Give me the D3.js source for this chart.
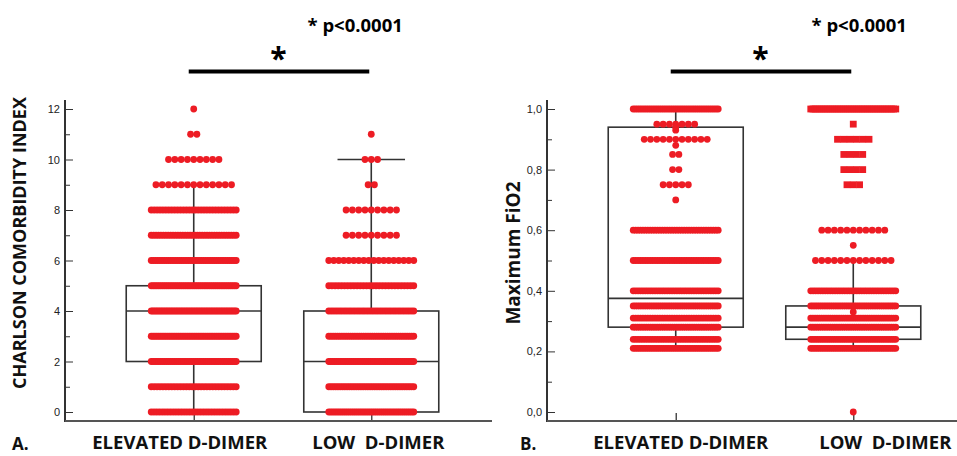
<html>
<head>
	<title>D-dimer dot plots</title>
	<script src="https://d3js.org/d3.v7.min.js"></script>
	<style type="text/css">
		body { margin: 0; background: #fff; }
		svg { display: block; }
	</style>
</head>
<body>
<div id="chart"></div>
<script type="text/javascript">
var groups = ["ELEVATED D-DIMER", "LOW  D-DIMER"];

// Charlson index: value of each row and how many dots sit on it
var charlsonValues = [0, 1, 2, 3, 4, 5, 6, 7, 8, 9, 10, 11, 12];
var charlsonElevated = [32, 30, 45, 48, 52, 46, 40, 36, 30, 13, 9, 2, 1];
var charlsonLow = [42, 38, 46, 40, 34, 28, 18, 9, 9, 2, 3, 1, 0];
// min, q1, median, q3, max
var charlsonBoxElevated = [0, 2, 4, 5, 9];
var charlsonBoxLow = [0, 0, 2, 4, 10];
var charlsonTicks = [0, 2, 4, 6, 8, 10, 12];
var charlsonMinor = [1, 3, 5, 7, 9, 11];

// Maximum FiO2
var fio2ValuesElevated = [0.21, 0.24, 0.28, 0.31, 0.35, 0.40, 0.50, 0.60, 0.70, 0.75, 0.80, 0.85, 0.88, 0.90, 0.93, 0.94, 0.95, 1.00];
var fio2Elevated = [40, 36, 40, 36, 40, 36, 36, 36, 1, 5, 2, 2, 1, 11, 1, 1, 7, 40];
var fio2ValuesLow = [0.00, 0.21, 0.24, 0.28, 0.31, 0.33, 0.35, 0.40, 0.50, 0.55, 0.60, 0.75, 0.80, 0.85, 0.90, 0.95, 1.00];
var fio2Low = [1, 40, 40, 40, 40, 1, 40, 36, 13, 1, 11, 3, 4, 4, 6, 1, 40];
var fio2LowSquares = [0.75, 0.80, 0.85, 0.90, 0.95, 1.00];
var fio2BoxElevated = [0.21, 0.28, 0.375, 0.94, 1.00];
var fio2BoxLow = [0.21, 0.24, 0.28, 0.35, 0.50];
var fio2Ticks = [0, 0.2, 0.4, 0.6, 0.8, 1.0];
var fio2Minor = [0.1, 0.3, 0.5, 0.7, 0.9];

var pText = "* p<0.0001";

var width = 957, height = 456;
var axisY = 421, axisTop = 100;
var red = "#ed1c24", ink = "#333";
var dotR = 3.4, dotStep = 6.3, rowSpan = 85;
var boxW = 135;

var svg = d3.select("#chart")
	.append("svg")
	.attr("width", width)
	.attr("height", height)
	.style("font-family", "'Open Sans', sans-serif");

var commaFmt = function(d) { return d3.format(".1f")(d).replace(".", ","); };

var panels = [
	{
		letter: "A.", letterX: 12, x0: 65, x1: 492,
		y: d3.scaleLinear().domain([0, 12]).range([412, 109]),
		ticks: charlsonTicks, minor: charlsonMinor, fmt: d3.format("d"),
		title: "CHARLSON COMORBIDITY INDEX", titleX: 20, titleY: 243, titleSize: 18,
		labelShift: [-14, 7], pShift: 25,
		series: [
			{ values: charlsonValues, counts: charlsonElevated, box: charlsonBoxElevated, squares: [] },
			{ values: charlsonValues, counts: charlsonLow, box: charlsonBoxLow, squares: [] }
		]
	},
	{
		letter: "B.", letterX: 520, x0: 547, x1: width,
		y: d3.scaleLinear().domain([0, 1]).range([412, 109]),
		ticks: fio2Ticks, minor: fio2Minor, fmt: commaFmt,
		title: "Maximum FiO2", titleX: 513, titleY: 253, titleSize: 19,
		labelShift: [5, 32], pShift: 47,
		series: [
			{ values: fio2ValuesElevated, counts: fio2Elevated, box: fio2BoxElevated, squares: [] },
			{ values: fio2ValuesLow, counts: fio2Low, box: fio2BoxLow, squares: fio2LowSquares }
		]
	}
];

panels.forEach(function(p) {
	var g = svg.append("g");
	var y = p.y;
	var x = d3.scalePoint()
		.domain(groups)
		.range([p.x0 + 8, p.x0 + 427])
		.padding(0.68);

	// y axis: inward ticks, labels on the left
	var ya = g.append("g")
		.attr("transform", "translate(" + p.x0 + ",0)")
		.call(d3.axisLeft(y).tickValues(p.ticks).tickSize(-8).tickPadding(5).tickFormat(p.fmt));
	ya.select(".domain").remove();
	ya.selectAll("line").attr("stroke", ink);
	ya.selectAll("text")
		.style("font-family", "'Liberation Sans', Arial, sans-serif")
		.style("font-size", "11px")
		.attr("fill", "#222");
	g.append("g")
		.attr("transform", "translate(" + p.x0 + ",0)")
		.call(d3.axisLeft(y).tickValues(p.minor).tickSize(-5).tickFormat(""))
		.call(function(s) { s.select(".domain").remove(); s.selectAll("line").attr("stroke", ink); });

	// x axis ticks at each group
	var xa = g.append("g")
		.attr("transform", "translate(0," + axisY + ")")
		.call(d3.axisBottom(x).tickSize(-8).tickFormat(""));
	xa.select(".domain").remove();
	xa.selectAll("line").attr("stroke", ink).attr("stroke-width", 1.3);

	g.append("line")
		.attr("x1", p.x0).attr("x2", p.x0)
		.attr("y1", axisTop).attr("y2", axisY + 1)
		.attr("stroke", ink).attr("stroke-width", 2);
	g.append("line")
		.attr("x1", p.x0).attr("x2", p.x1)
		.attr("y1", axisY).attr("y2", axisY)
		.attr("stroke", "#555").attr("stroke-width", 2.2);

	// boxes and whiskers
	p.series.forEach(function(s, k) {
		var cx = x(groups[k]), b = s.box;
		var bg = g.append("g").attr("stroke", ink).attr("stroke-width", 1.6).attr("fill", "none");
		bg.append("line").attr("x1", cx).attr("x2", cx).attr("y1", y(b[0])).attr("y2", y(b[1]));
		bg.append("line").attr("x1", cx).attr("x2", cx).attr("y1", y(b[3])).attr("y2", y(b[4]));
		bg.append("line").attr("x1", cx - boxW / 4).attr("x2", cx + boxW / 4).attr("y1", y(b[0])).attr("y2", y(b[0]));
		bg.append("line").attr("x1", cx - boxW / 4).attr("x2", cx + boxW / 4).attr("y1", y(b[4])).attr("y2", y(b[4]));
		bg.append("rect")
			.attr("x", cx - boxW / 2).attr("width", boxW)
			.attr("y", y(b[3])).attr("height", y(b[1]) - y(b[3]));
		bg.append("line").attr("x1", cx - boxW / 2).attr("x2", cx + boxW / 2).attr("y1", y(b[2])).attr("y2", y(b[2]));
	});

	// dots: one centred row per value, squeezed when the row is full
	p.series.forEach(function(s, k) {
		var cx = x(groups[k]);
		var dots = [];
		s.values.forEach(function(v, j) {
			var n = s.counts[j];
			var step = n > 1 ? Math.min(dotStep, rowSpan / (n - 1)) : 0;
			for (var i = 0; i < n; i++) {
				dots.push({ v: v, x: cx + (i - (n - 1) / 2) * step, sq: s.squares.indexOf(v) >= 0 });
			}
		});
		g.selectAll(".c" + k)
			.data(dots.filter(function(d) { return !d.sq; }))
			.enter().append("circle")
			.attr("cx", function(d) { return d.x; })
			.attr("cy", function(d) { return y(d.v); })
			.attr("r", dotR)
			.attr("fill", red);
		g.selectAll(".s" + k)
			.data(dots.filter(function(d) { return d.sq; }))
			.enter().append("rect")
			.attr("x", function(d) { return d.x - dotR; })
			.attr("y", function(d) { return y(d.v) - dotR; })
			.attr("width", dotR * 2)
			.attr("height", dotR * 2)
			.attr("fill", red);
	});

	// y title
	g.append("text")
		.attr("transform", "translate(" + p.titleX + "," + p.titleY + ") rotate(-90)")
		.attr("text-anchor", "middle")
		.attr("dy", "0.35em")
		.style("font-size", p.titleSize + "px")
		.style("font-weight", "bold")
		.attr("fill", "#111")
		.text(p.title);

	// group labels
	g.selectAll(".glabel")
		.data(groups)
		.enter().append("text")
		.attr("x", function(d, i) { return x(d) + p.labelShift[i]; })
		.attr("y", 449)
		.attr("text-anchor", "middle")
		.style("font-size", "18.5px")
		.style("font-weight", "bold")
		.style("white-space", "pre")
		.attr("fill", "#111")
		.text(function(d) { return d; });

	g.append("text")
		.attr("x", p.letterX)
		.attr("y", 450)
		.style("font-size", "17px")
		.style("font-weight", "bold")
		.attr("fill", "#111")
		.text(p.letter);

	// significance bar
	var xa0 = x(groups[0]) - 5, xa1 = x(groups[1]) - 2;
	var mid = (x(groups[0]) + x(groups[1])) / 2;
	g.append("line")
		.attr("x1", xa0).attr("x2", xa1)
		.attr("y1", 71.5).attr("y2", 71.5)
		.attr("stroke", "#000").attr("stroke-width", 4);
	g.append("text")
		.attr("x", mid - 4)
		.attr("y", 69)
		.attr("text-anchor", "middle")
		.style("font-size", "30px")
		.style("font-weight", "bold")
		.attr("fill", "#000")
		.text("*");
	g.append("text")
		.attr("x", mid + p.pShift)
		.attr("y", 32)
		.style("font-size", "18.5px")
		.style("font-weight", "bold")
		.attr("fill", "#000")
		.text(pText);
});
</script>
</body>
</html>
